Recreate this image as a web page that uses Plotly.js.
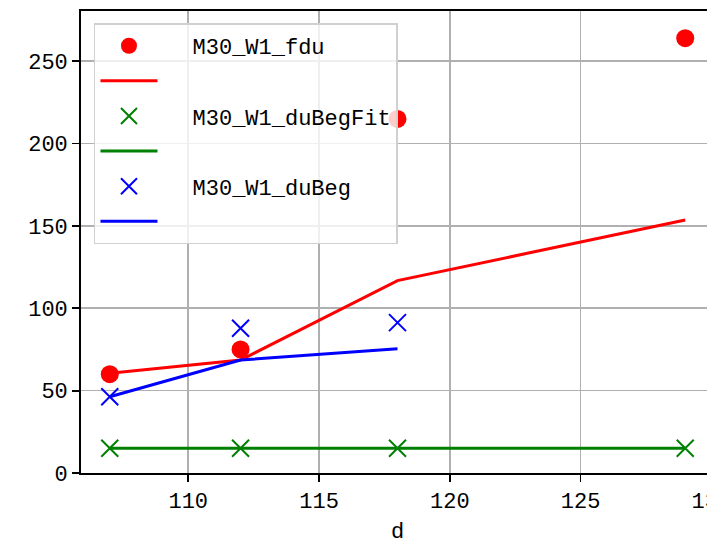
<!DOCTYPE html>
<html>
<head>
<meta charset="utf-8">
<script src="https://cdn.plot.ly/plotly-3.0.1.min.js"></script>
<style>
html, body { margin: 0; padding: 0; overflow: hidden; background: #fff; }
#chart { width: 730px; height: 545px; }
</style>
</head>
<body>
<div id="chart"></div>
<script>
var d = [107, 112, 118, 129];
var fduPoints = [60, 75, 215, 264];
var fduFit = [60.5, 68.6, 116.8, 153.6];
var duBegFitPoints = [15, 15, 15, 15];
var duBegFitLine = [15, 15, 15, 15];
var dBeg = [107, 112, 118];
var duBegPoints = [46.3, 87.9, 91.3];
var duBegLine = [46.3, 68.6, 75.5];
var seriesNames = ['M30_W1_fdu', 'M30_W1_duBegFit', 'M30_W1_duBeg'];
var xTicks = [110, 115, 120, 125, 130];
var yTicks = [0, 50, 100, 150, 200, 250];

var FONT = 'Liberation Mono, DejaVu Sans Mono, monospace';
var PAD = '\u00a0\u00a0\u2006';

var traces = [
  {x: d, y: fduPoints, mode: 'markers', name: PAD + seriesNames[0], legendgroup: 'g1',
   marker: {color: '#ff0000', size: 18, symbol: 'circle'}},
  {x: d, y: fduFit, mode: 'lines', name: '', legendgroup: 'g2',
   line: {color: '#ff0000', width: 3}},
  {x: d, y: duBegFitPoints, mode: 'markers', name: PAD + seriesNames[1], legendgroup: 'g3',
   marker: {color: '#008000', size: 17, symbol: 'x-thin', line: {color: '#008000', width: 2}}},
  {x: d, y: duBegFitLine, mode: 'lines', name: '', legendgroup: 'g4',
   line: {color: '#008000', width: 3}},
  {x: dBeg, y: duBegPoints, mode: 'markers', name: PAD + seriesNames[2], legendgroup: 'g5',
   marker: {color: '#0000ff', size: 17, symbol: 'x-thin', line: {color: '#0000ff', width: 2}}},
  {x: dBeg, y: duBegLine, mode: 'lines', name: '', legendgroup: 'g6',
   line: {color: '#0000ff', width: 3}}
];

var layout = {
  width: 730, height: 545,
  margin: {l: 81, r: 16, t: 11, b: 72},
  paper_bgcolor: '#ffffff', plot_bgcolor: '#ffffff',
  font: {family: FONT, size: 22, color: '#000'},
  showlegend: true,
  legend: {
    x: 0.0205, y: 0.973, xanchor: 'left', yanchor: 'top',
    bgcolor: 'rgba(255,255,255,0.8)', bordercolor: '#d0d0d0', borderwidth: 1.5,
    font: {family: FONT, size: 22, color: '#000'},
    itemwidth: 57, traceorder: 'grouped', tracegroupgap: 3.5
  },
  xaxis: {
    range: [105.9, 130.1], tickvals: xTicks, ticktext: xTicks.map(String),
    showgrid: true, gridcolor: '#b0b0b0', gridwidth: 1.6,
    showline: true, linecolor: '#000', linewidth: 1.8, mirror: true,
    ticks: 'outside', ticklen: 7, tickwidth: 1.8, tickcolor: '#000',
    zeroline: false, ticklabeloverflow: 'allow',
    tickfont: {family: FONT, size: 22, color: '#000'},
    title: {text: 'd', font: {family: FONT, size: 22, color: '#000'}, standoff: 10}
  },
  yaxis: {
    range: [0, 280.5], tickvals: yTicks, ticktext: yTicks.map(String),
    showgrid: true, gridcolor: '#b0b0b0', gridwidth: 1.6,
    showline: true, linecolor: '#000', linewidth: 1.8, mirror: true,
    ticks: 'outside', ticklen: 7, tickwidth: 1.8, tickcolor: '#000',
    zeroline: false,
    tickfont: {family: FONT, size: 22, color: '#000'}
  }
};

Plotly.newPlot('chart', traces, layout, {staticPlot: true, displayModeBar: false});
</script>
</body>
</html>
